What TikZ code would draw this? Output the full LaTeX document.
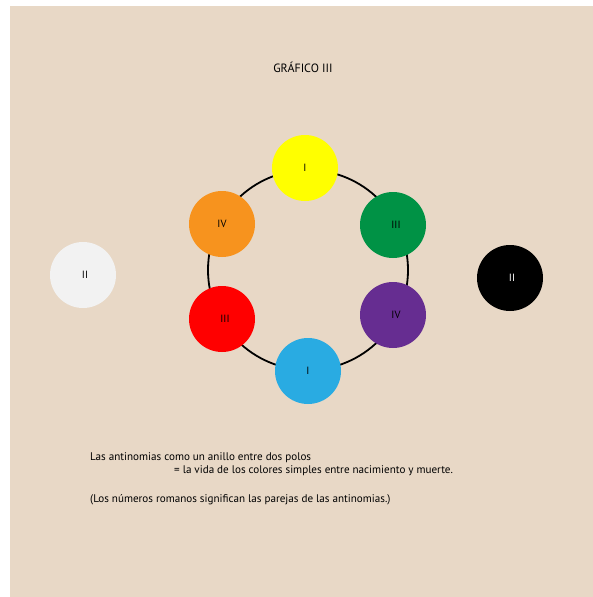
\documentclass[tikz,border=0pt]{standalone}
\usepackage{fontspec}
\setmainfont{PT Sans}
\usetikzlibrary{positioning}

\definecolor{paper}{HTML}{E8D8C6}
\definecolor{cyellow}{HTML}{FFFF00}
\definecolor{cgreen}{HTML}{009245}
\definecolor{cpurple}{HTML}{662D91}
\definecolor{cblue}{HTML}{29ABE2}
\definecolor{cred}{HTML}{FF0000}
\definecolor{corange}{HTML}{F7931E}
\definecolor{cwhite}{HTML}{F2F2F2}

\begin{document}
\begin{tikzpicture}[x=1pt, y=-1pt,
    every node/.style={font=\fontsize{11.1}{13}\selectfont},
    hue/.style={circle, minimum size=66pt, inner sep=0pt, font=\fontsize{10.5}{12}\selectfont},
    pole/.style={hue}]

  \useasboundingbox (0,0) rectangle (593,597);
  \fill[white] (0,0) rectangle (593,597);
  \fill[paper] (10,6) rectangle (593,597);

  % Title
  \node[anchor=base] (title) at (303,72.5) {\fontsize{12}{14}\selectfont GRÁFICO III};

  % The ring
  \coordinate (ring) at (308,270);
  \draw[line width=1.8pt] (ring) circle [radius=100];

  % Colours on the ring
  \node[hue, fill=cyellow] (yellow) at (305,168) {I};
  \node[hue, fill=cgreen]  (green)  at (393,225) {\hspace{6pt}III};
  \node[hue, fill=cpurple] (purple) at (393,315) {\hspace{6pt}IV};
  \node[hue, fill=cblue]   (blue)   at (308,371) {I};
  \node[hue, fill=cred]    (red)    at (222,319) {\hspace{6pt}III};
  \node[hue, fill=corange] (orange) at (222,224) {IV};

  % The two poles
  \node[pole, fill=cwhite] (white) at (83,275) {\hspace{4pt}II};
  \node[pole, fill=black, text=white] (black) at (510,278) {\hspace{4pt}II};

  % Caption
  \node[anchor=base west, inner sep=0pt] (cap1) at (90,460) {Las antinomias como un anillo entre dos polos};
  \node[anchor=base west, inner sep=0pt] (cap2) at (174,473) {= la vida de los colores simples entre nacimiento y muerte.};
  \node[anchor=base west, inner sep=0pt] (cap3) at (90,502) {(Los números romanos significan las parejas de las antinomias.)};
\end{tikzpicture}
\end{document}
